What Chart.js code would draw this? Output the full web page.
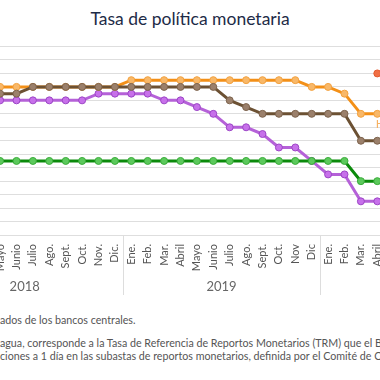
<!DOCTYPE html>
<html lang="es">
<head>
<meta charset="utf-8">
<title>Tasa de política monetaria</title>
<script src="https://cdn.jsdelivr.net/npm/chart.js@4.4.1/dist/chart.umd.min.js"></script>
<style>
  html, body { margin: 0; padding: 0; background: #fff; }
  body {
    width: 380px; height: 380px; overflow: hidden; position: relative;
    font-family: Lato, "Noto Sans", sans-serif;
  }
  #title {
    position: absolute; top: 9px; left: 0; width: 380px;
    text-align: center; font-size: 17.5px; line-height: 20px; color: #1d2b47;
  }
  #chart-wrap { position: absolute; left: -90px; top: 0; width: 500px; height: 300px; }
  .note {
    position: absolute; left: 0; white-space: nowrap;
    font-size: 10.7px; line-height: 14px; color: #555;
  }
</style>
</head>
<body>
<div id="title">Tasa de política monetaria</div>
<div id="chart-wrap"><canvas id="tpm-chart" width="500" height="300"></canvas></div>
<div class="note" style="top:313px">ados de los bancos centrales.</div>
<div class="note" style="top:336px">agua, corresponde a la Tasa de Referencia de Reportos Monetarios (TRM) que el BCN</div>
<div class="note" style="top:349px">ciones a 1 día en las subastas de reportos monetarios, definida por el Comité de Op</div>

<script>
// Months Ene 2018 .. Abril 2020 (the crop shows from Mayo 2018 on).
const MONTHS = [
  "Ene.", "Feb.", "Mar.", "Abril", "Mayo", "Junio", "Julio", "Ago.", "Sept.", "Oct.", "Nov.", "Dic.",
  "Ene.", "Feb.", "Mar.", "Abril", "Mayo", "Junio", "Julio", "Ago.", "Sept.", "Oct.", "Nov", "Dic",
  "Ene.", "Feb.", "Mar.", "Abril",
];
// Year captions under the axis (only full years are visible in the crop).
const YEARS = ["2018", "2019"];

// Policy rates, % (0.25 steps).
const HONDURAS = [
  5.5, 5.5, 5.5, 5.5, 5.5, 5.5, 5.5, 5.5, 5.5, 5.5, 5.5, 5.5,
  5.75, 5.75, 5.75, 5.75, 5.75, 5.75, 5.75, 5.75, 5.75, 5.75, 5.75, 5.5,
  5.5, 5.25, 4.5, 4.5,
];
const REP_DOMINICANA = [
  5.25, 5.25, 5.25, 5.25, 5.25, 5.25, 5.5, 5.5, 5.5, 5.5, 5.5, 5.5,
  5.5, 5.5, 5.5, 5.5, 5.5, 5.5, 5.0, 4.75, 4.5, 4.5, 4.5, 4.5,
  4.5, 4.5, 3.5, 3.5,
];
const COSTA_RICA = [
  5.0, 5.0, 5.0, 5.0, 5.0, 5.0, 5.0, 5.0, 5.0, 5.0, 5.25, 5.25,
  5.25, 5.25, 5.0, 5.0, 4.75, 4.5, 4.0, 4.0, 3.75, 3.25, 3.25, 2.75,
  2.25, 2.25, 1.25, 1.25,
];
const GUATEMALA = [
  2.75, 2.75, 2.75, 2.75, 2.75, 2.75, 2.75, 2.75, 2.75, 2.75, 2.75, 2.75,
  2.75, 2.75, 2.75, 2.75, 2.75, 2.75, 2.75, 2.75, 2.75, 2.75, 2.75, 2.75,
  2.75, 2.75, 2.0, 2.0,
];
const NICARAGUA = [
  null, null, null, null, null, null, null, null, null, null, null, null,
  null, null, null, null, null, null, null, null, null, null, null, null,
  null, null, null, 6.0,
];

const Y_MIN = 0;
const Y_MAX = 7;
const Y_STEP = 0.5;

function lineSet(label, data, line, fill, edge, order) {
  return {
    label, data, order,
    borderColor: line, borderWidth: 3, tension: 0,
    pointRadius: 3.5, pointHoverRadius: 3.5, pointBorderWidth: 1,
    pointBackgroundColor: fill, pointBorderColor: edge,
  };
}

// Year captions, the Dic|Ene separators and the end label of Honduras.
const yearBands = {
  id: "yearBands",
  afterDraw(chart) {
    const { ctx, chartArea } = chart;
    const x = chart.scales.x;
    ctx.save();
    ctx.strokeStyle = "#dddddd";
    ctx.lineWidth = 1;
    for (let i = 11; i < MONTHS.length - 1; i += 12) {
      const sx = Math.round((x.getPixelForTick(i) + x.getPixelForTick(i + 1)) / 2) + 0.5;
      ctx.beginPath();
      ctx.moveTo(sx, chartArea.bottom);
      ctx.lineTo(sx, chartArea.bottom + 60);
      ctx.stroke();
    }
    ctx.fillStyle = "#666";
    ctx.font = "13px Lato, 'Noto Sans', sans-serif";
    ctx.textAlign = "center";
    ctx.textBaseline = "middle";
    YEARS.forEach((yr, k) => {
      const cx = (x.getPixelForTick(k * 12) + x.getPixelForTick(k * 12 + 11)) / 2;
      ctx.fillText(yr, cx, chartArea.bottom + 52);
    });
    const meta = chart.getDatasetMeta(0);
    const last = meta.data[meta.data.length - 1];
    ctx.fillStyle = "#f6b263";
    ctx.font = "12px Lato, 'Noto Sans', sans-serif";
    ctx.textAlign = "left";
    ctx.fillText("Honduras", last.x - 1.5, last.y + 10);
    ctx.restore();
  },
};

new Chart(document.getElementById("tpm-chart"), {
  type: "line",
  data: {
    labels: MONTHS,
    datasets: [
      lineSet("Honduras", HONDURAS, "#f39018", "#f8b869", "#f3a13e", 2),
      lineSet("Rep. Dominicana", REP_DOMINICANA, "#6c5133", "#9b806b", "#7d634d", 1),
      lineSet("Costa Rica", COSTA_RICA, "#b561d8", "#c770ea", "#9c45c6", 4),
      lineSet("Guatemala", GUATEMALA, "#0b8a0b", "#5cc95c", "#39ac39", 3),
      lineSet("Nicaragua a/", NICARAGUA, "#ee6a3e", "#f06f45", "#e35a2e", 0),
    ],
  },
  options: {
    responsive: false,
    animation: false,
    layout: { padding: { left: 16.3, right: 24.5, top: 46.5, bottom: 5 } },
    plugins: { legend: { display: false }, tooltip: { enabled: false } },
    scales: {
      x: {
        offset: true,
        grid: { display: false, drawTicks: false },
        border: { display: false },
        ticks: {
          autoSkip: false, minRotation: 90, maxRotation: 90, padding: 9,
          color: "#555", font: { family: "Lato, 'Noto Sans', sans-serif", size: 11 },
        },
        afterFit(scale) { scale.height = 60; },
      },
      y: {
        min: Y_MIN, max: Y_MAX,
        ticks: { display: false, stepSize: Y_STEP },
        grid: { color: "#dedede", lineWidth: 1, drawTicks: false },
        border: { display: false },
        afterFit(scale) { scale.width = 0; },
      },
    },
  },
  plugins: [yearBands],
});
</script>
</body>
</html>
